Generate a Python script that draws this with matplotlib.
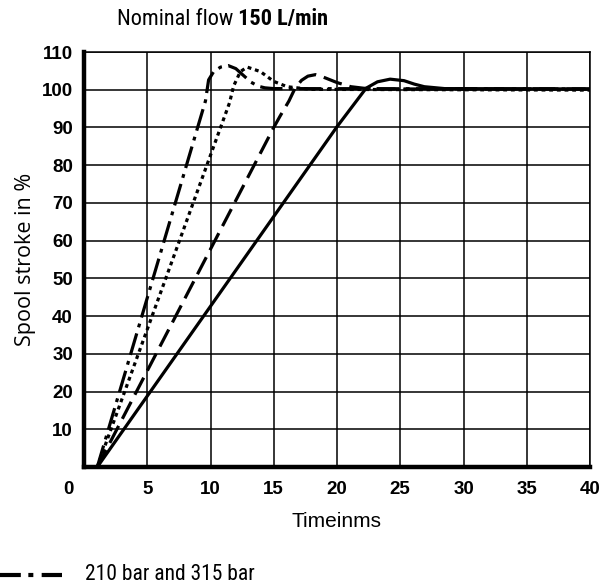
import matplotlib.pyplot as plt
import matplotlib.transforms as mtransforms
from matplotlib.lines import Line2D

# spool stroke step response, nominal flow 150 L/min
t_dashdot = [1.05, 9.6, 9.85, 10.25, 10.8, 11.4, 12.0, 12.6, 13.2, 13.8, 14.3, 15.0, 40.0]
y_dashdot = [0.0, 97.0, 102.6, 104.8, 106.0, 106.4, 105.6, 103.8, 102.0, 100.9, 100.5, 100.3, 100.2]

t_dotted = [1.05, 11.5, 11.83, 12.36, 12.9, 13.95, 15.0, 16.06, 17.1, 18.0, 40.0]
y_dotted = [0.0, 96.5, 101.0, 104.8, 106.0, 104.8, 102.2, 100.8, 100.4, 100.1, 99.9]

t_dashed = [1.05, 15.0, 15.5, 16.2, 16.7, 17.2, 17.7, 18.3, 18.8, 20.0, 21.1, 22.1, 23.0, 40.0]
y_dashed = [0.0, 90.0, 93.0, 97.0, 100.5, 102.5, 103.6, 104.0, 103.5, 101.9, 100.8, 100.4, 100.2, 100.2]

t_solid = [1.05, 20.0, 22.3, 23.2, 24.2, 25.3, 26.1, 26.9, 28.5, 40.0]
y_solid = [0.0, 90.2, 100.4, 102.1, 102.8, 102.4, 101.5, 100.8, 100.3, 100.2]

x_ticks = [0, 5, 10, 15, 20, 25, 30, 35, 40]
y_ticks = [10, 20, 30, 40, 50, 60, 70, 80, 90, 100, 110]

cond = ['Roboto Condensed', 'DejaVu Sans']
plain = ['Open Sans', 'DejaVu Sans']
arial = ['Liberation Sans', 'DejaVu Sans']

fig = plt.figure(figsize=(6.10, 5.88), dpi=100)
ax = fig.add_axes([84 / 610, 1 - 467 / 588, 506 / 610, 415 / 588])

lw = 2.3
ax.plot(t_solid, y_solid, color='k', lw=lw, solid_capstyle='butt')
ax.plot(t_dashed, y_dashed, color='k', lw=lw, linestyle=(0, (6, 2.5)), dash_capstyle='butt')
ax.plot(t_dotted, y_dotted, color='k', lw=lw, linestyle=(0, (1.2, 1.2)), dash_capstyle='butt')
ax.plot(t_dashdot, y_dashdot, color='k', lw=lw, linestyle=(0, (7, 2, 1.2, 2)), dash_capstyle='butt')

ax.set_xlim(0, 40)
ax.set_ylim(0, 110)
ax.set_xticks(x_ticks)
ax.set_yticks(y_ticks)
ax.set_xticklabels([str(v) for v in x_ticks], fontfamily=arial, fontweight='bold', fontsize=13.5)
ax.set_yticklabels([str(v) for v in y_ticks], fontfamily=arial, fontweight='bold', fontsize=13.5)
ax.tick_params(axis='x', length=0, pad=10)
ax.tick_params(axis='y', length=0, pad=8)

# push the corner "0" left of the origin
shift = mtransforms.ScaledTranslation(-16 / 100, 0, fig.dpi_scale_trans)
lab0 = ax.get_xticklabels()[0]
lab0.set_transform(lab0.get_transform() + shift)

ax.grid(True, color='k', lw=1.1)
for side in ['top', 'right']:
    ax.spines[side].set_linewidth(1.1)
for side in ['left', 'bottom']:
    ax.spines[side].set_linewidth(3.2)
ax.set_axisbelow(True)

ax.set_xlabel('Timeinms', fontfamily=arial, fontsize=15, labelpad=10)
ax.set_ylabel('Spool stroke in %', fontfamily=plain, fontsize=15.5, labelpad=4)

t1 = fig.text(117 / 610, 1 - 30 / 588, 'Nominal flow', fontfamily=cond, fontsize=16, va='bottom', ha='left')
fig.add_artist(plt.Annotation(' 150 L/min', xy=(1, 0), xycoords=t1, fontfamily=cond, fontsize=16,
                              fontweight='bold', va='bottom', ha='left'))

# legend entry at the bottom
leg_line = Line2D([0 / 610, 62 / 610], [1 - 575 / 588, 1 - 575 / 588], transform=fig.transFigure,
                  color='k', lw=3, linestyle=(0, (5, 1.8, 1.2, 2.0)), dash_capstyle='butt')
fig.add_artist(leg_line)
fig.text(85 / 610, 1 - 574 / 588, '210 bar and 315 bar', fontfamily=cond, fontsize=15.5, va='center', ha='left')

fig.savefig('out.png', dpi=100)
